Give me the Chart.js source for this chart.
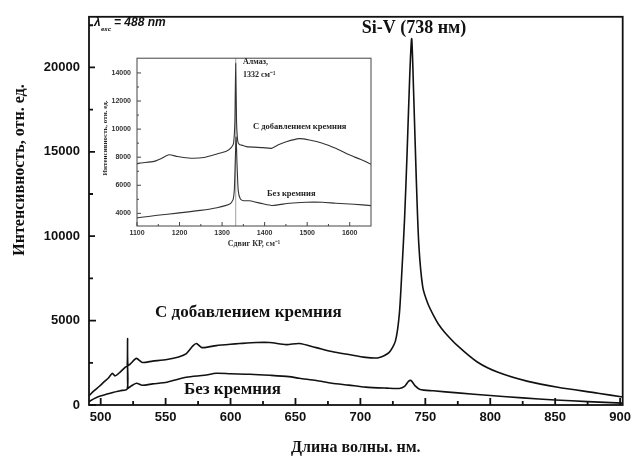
<!DOCTYPE html>
<html>
<head>
<meta charset="utf-8">
<script src="https://cdn.jsdelivr.net/npm/chart.js@4.4.1/dist/chart.umd.min.js"></script>
<style>
  body { margin: 0; background: #fff; }
  #wrap { position: relative; width: 636px; height: 462px; }
  #main { position: absolute; left: 0; top: 0; }
  #inset { position: absolute; left: 95px; top: 48px; background: #fff; }
</style>
</head>
<body>
<div id="wrap">
  <canvas id="main" width="636" height="462"></canvas>
  <canvas id="inset" width="285" height="205"></canvas>
</div>
<script>
// --- Spectre PL principal (longueur d'onde, nm) ---
const wlWithSi = [491, 495, 499, 503, 506, 509, 511, 515, 519, 520.4, 520.7, 521.0, 523, 527.5, 532, 540, 551, 560, 566, 571, 573.7, 578, 589, 600, 607, 620, 630, 643, 653, 666, 678, 691, 704, 714, 722, 727, 730, 732, 734, 736, 738, 739.5, 741, 743, 745, 748, 752, 757, 760, 765, 775, 790, 806, 829, 852, 883, 902];
const intWithSi = [550, 850, 1110, 1400, 1600, 1880, 1720, 1950, 2250, 2300, 3930, 2350, 2450, 2760, 2520, 2600, 2700, 2850, 3050, 3500, 3640, 3400, 3520, 3600, 3640, 3700, 3700, 3580, 3640, 3400, 3170, 2990, 2820, 2800, 3100, 3800, 5400, 8000, 11000, 15000, 19500, 21700, 18500, 13500, 9500, 7000, 6000, 5200, 4800, 4300, 3500, 2550, 1940, 1400, 1050, 700, 470];

const wlNoSi = [491, 495, 499, 505, 510, 515, 520.4, 520.7, 521.0, 523, 527.5, 532, 540, 551, 566, 580, 589, 600, 615, 630, 645, 653, 666, 678, 691, 704, 720, 730, 734, 737, 739, 742, 746, 756, 775, 800, 825, 850, 875, 902];
const intNoSi = [200, 380, 520, 650, 760, 850, 950, 2300, 1000, 1100, 1290, 1170, 1250, 1350, 1640, 1760, 1880, 1850, 1820, 1760, 1680, 1580, 1450, 1290, 1180, 1060, 1000, 980, 1100, 1400, 1450, 1150, 920, 840, 720, 560, 420, 300, 200, 110];

// graduations de l'axe principal
const xTicks = [500, 550, 600, 650, 700, 750, 800, 850, 900];
const xMinor = [525, 575, 625, 675, 725, 775, 825, 875];
const yTicks = [0, 5000, 10000, 15000, 20000];
const yMinor = [2500, 7500, 12500, 17500, 22500];

// --- Encadré : spectre Raman (cm-1) ---
const shiftUpper = [1100, 1105, 1140, 1156, 1175, 1195, 1226, 1257, 1288, 1311, 1322, 1327, 1330, 1332, 1334, 1337, 1341, 1346, 1357, 1396, 1416, 1431, 1451, 1481, 1505, 1536, 1567, 1600, 1625, 1650];
const ramanUpper = [7520, 7580, 7700, 7890, 8170, 8050, 7930, 7980, 8230, 8440, 8700, 9000, 10500, 14680, 10500, 9100, 8900, 8860, 8750, 8680, 8630, 8860, 9100, 9320, 9230, 9000, 8630, 8150, 7850, 7500];
const shiftLower = [1100, 1105, 1148, 1195, 1249, 1288, 1319, 1326, 1329, 1331, 1333, 1335, 1338, 1343, 1351, 1365, 1396, 1419, 1458, 1497, 1536, 1567, 1610, 1650];
const ramanLower = [3680, 3700, 3860, 4020, 4210, 4400, 4680, 5000, 5800, 7800, 9440, 7600, 5600, 5030, 4900, 4900, 4680, 4560, 4720, 4790, 4790, 4720, 4650, 4550];

const insetXTicks = [1100, 1200, 1300, 1400, 1500, 1600];
const insetXMinor = [1150, 1250, 1350, 1450, 1550];
const insetYTicks = [4000, 6000, 8000, 10000, 12000, 14000];
const insetYMinor = [5000, 7000, 9000, 11000, 13000];
const diamondLine = 1332;

// construit les points {x, y} à partir de deux listes
const toPoints = (xs, ys) => xs.map((v, i) => ({ x: v, y: ys[i] }));
// impose les graduations d'une liste
const fixTicks = list => scale => { scale.ticks = list.map(v => ({ value: v })); };
const plain = v => String(v);

// Cadre + graduations vers l'intérieur
const boxPlugin = {
    id: 'box',
    afterDatasetsDraw(chart, args, opts) {
        const { ctx, chartArea: a, scales: { x, y } } = chart;
        ctx.save();
        ctx.strokeStyle = opts.color;
        ctx.lineWidth = opts.lw;
        ctx.strokeRect(a.left, a.top, a.right - a.left, a.bottom - a.top);
        ctx.beginPath();
        opts.xMajor.forEach(v => { const p = x.getPixelForValue(v); ctx.moveTo(p, a.bottom); ctx.lineTo(p, a.bottom - opts.major); });
        opts.xMinor.forEach(v => { const p = x.getPixelForValue(v); ctx.moveTo(p, a.bottom); ctx.lineTo(p, a.bottom - opts.minor); });
        opts.yMajor.forEach(v => { const p = y.getPixelForValue(v); ctx.moveTo(a.left, p); ctx.lineTo(a.left + opts.major, p); });
        opts.yMinor.forEach(v => { const p = y.getPixelForValue(v); ctx.moveTo(a.left, p); ctx.lineTo(a.left + opts.minor, p); });
        ctx.stroke();
        ctx.restore();
    }
};

// Textes posés sur le graphique
const labelsPlugin = {
    id: 'labels',
    afterDraw(chart, args, opts) {
        const { ctx } = chart;
        ctx.save();
        ctx.fillStyle = opts.color || '#111';
        ctx.textBaseline = 'middle';
        opts.items.forEach(t => {
            ctx.save();
            ctx.font = t.font;
            ctx.textAlign = t.align || 'left';
            ctx.translate(t.x, t.y);
            if (t.rot) ctx.rotate(t.rot);
            ctx.fillText(t.text, 0, 0);
            ctx.restore();
        });
        ctx.restore();
    }
};

const serifB = 'bold 17px "Liberation Serif", "DejaVu Serif", serif';
const noGrid = { display: false, drawTicks: false };

// *** GRAPHIQUE PRINCIPAL ***
new Chart(document.getElementById('main'), {
    type: 'line',
    data: {
        datasets: [
            { label: 'С добавлением кремния', data: toPoints(wlWithSi, intWithSi), borderColor: '#111', borderWidth: 1.6, pointRadius: 0, tension: 0.25, fill: false },
            { label: 'Без кремния', data: toPoints(wlNoSi, intNoSi), borderColor: '#111', borderWidth: 1.6, pointRadius: 0, tension: 0.25, fill: false }
        ]
    },
    options: {
        responsive: false,
        animation: false,
        layout: { padding: { left: 0, right: 12, top: 14, bottom: 0 } },
        plugins: {
            legend: { display: false },
            tooltip: { enabled: false },
            box: { color: '#111', lw: 1.8, major: 7, minor: 4, xMajor: xTicks, xMinor: xMinor, yMajor: yTicks, yMinor: yMinor },
            labels: {
                items: [
                    { text: 'Si-V (738 нм)', x: 414, y: 28, align: 'center', font: 'bold 18px "Liberation Serif", serif' },
                    { text: 'С добавлением кремния', x: 155, y: 313, font: serifB },
                    { text: 'Без кремния', x: 184, y: 390, font: serifB },
                    { text: 'Интенсивность, отн. ед.', x: 20, y: 170, align: 'center', rot: -Math.PI / 2, font: 'bold 16px "Liberation Serif", serif' },
                    { text: 'λ', x: 94, y: 23, font: 'italic bold 12px "Liberation Sans", sans-serif' },
                    { text: 'exc', x: 101, y: 29, font: 'italic bold 6px "Liberation Sans", sans-serif' },
                    { text: '= 488 nm', x: 114, y: 23, font: 'italic bold 12px "Liberation Sans", sans-serif' }
                ]
            }
        },
        scales: {
            x: {
                type: 'linear', min: 491, max: 902,
                afterFit: s => { s.height = 57; },
                afterBuildTicks: fixTicks(xTicks),
                grid: noGrid, border: { display: false },
                ticks: { autoSkip: false, padding: 5, color: '#111', callback: plain, font: { family: 'Liberation Sans', weight: 'bold', size: 13 }, maxRotation: 0 },
                title: { display: true, text: 'Длина волны. нм.', color: '#111', padding: { top: 0, bottom: 5 }, font: { family: 'Liberation Serif', weight: 'bold', size: 16 } }
            },
            y: {
                type: 'linear', min: 0, max: 23000,
                afterFit: s => { s.width = 89; },
                afterBuildTicks: fixTicks(yTicks),
                grid: noGrid, border: { display: false },
                ticks: { autoSkip: false, padding: 9, color: '#111', callback: plain, font: { family: 'Liberation Sans', weight: 'bold', size: 13 } }
            }
        }
    },
    plugins: [boxPlugin, labelsPlugin]
});

// Ligne verticale du diamant dans l'encadré
const diamondPlugin = {
    id: 'diamond',
    beforeDatasetsDraw(chart) {
        const { ctx, chartArea: a, scales: { x } } = chart;
        const p = x.getPixelForValue(diamondLine);
        ctx.save();
        ctx.strokeStyle = '#888';
        ctx.lineWidth = 0.8;
        ctx.beginPath(); ctx.moveTo(p, a.top); ctx.lineTo(p, a.bottom); ctx.stroke();
        ctx.restore();
    }
};

const smallSerif = 'bold 8px "Liberation Serif", serif';

// *** ENCADRÉ RAMAN ***
new Chart(document.getElementById('inset'), {
    type: 'line',
    data: {
        datasets: [
            { label: 'С добавлением кремния', data: toPoints(shiftUpper, ramanUpper), borderColor: '#333', borderWidth: 1.1, pointRadius: 0, tension: 0.2, fill: false },
            { label: 'Без кремния', data: toPoints(shiftLower, ramanLower), borderColor: '#333', borderWidth: 1.1, pointRadius: 0, tension: 0.2, fill: false }
        ]
    },
    options: {
        responsive: false,
        animation: false,
        layout: { padding: { left: 0, right: 9, top: 7, bottom: 0 } },
        plugins: {
            legend: { display: false },
            tooltip: { enabled: false },
            box: { color: '#444', lw: 1, major: 4, minor: 2, xMajor: insetXTicks, xMinor: insetXMinor, yMajor: insetYTicks, yMinor: insetYMinor },
            labels: {
                color: '#222',
                items: [
                    { text: 'Алмаз,', x: 148, y: 14, font: smallSerif },
                    { text: '1332 см⁻¹', x: 148, y: 27, font: smallSerif },
                    { text: 'С добавлением кремния', x: 158, y: 79, font: 'bold 8.5px "Liberation Serif", serif' },
                    { text: 'Без кремния', x: 172, y: 146, font: 'bold 8.5px "Liberation Serif", serif' },
                    { text: 'Интенсивность, отн. ед.', x: 10, y: 90, align: 'center', rot: -Math.PI / 2, font: 'bold 7px "Liberation Serif", serif' }
                ]
            }
        },
        scales: {
            x: {
                type: 'linear', min: 1100, max: 1650,
                afterFit: s => { s.height = 27; },
                afterBuildTicks: fixTicks(insetXTicks),
                grid: noGrid, border: { display: false },
                ticks: { autoSkip: false, padding: 3, color: '#333', callback: plain, font: { family: 'Liberation Sans', weight: 'bold', size: 7 }, maxRotation: 0 },
                title: { display: true, text: 'Сдвиг КР, см⁻¹', color: '#333', padding: { top: 0, bottom: 4 }, font: { family: 'Liberation Serif', weight: 'bold', size: 8 } }
            },
            y: {
                type: 'linear', min: 3100, max: 15050,
                afterFit: s => { s.width = 42; },
                afterBuildTicks: fixTicks(insetYTicks),
                grid: noGrid, border: { display: false },
                ticks: { autoSkip: false, padding: 6, color: '#333', callback: plain, font: { family: 'Liberation Sans', weight: 'bold', size: 7 } }
            }
        }
    },
    plugins: [diamondPlugin, boxPlugin, labelsPlugin]
});
</script>
</body>
</html>
